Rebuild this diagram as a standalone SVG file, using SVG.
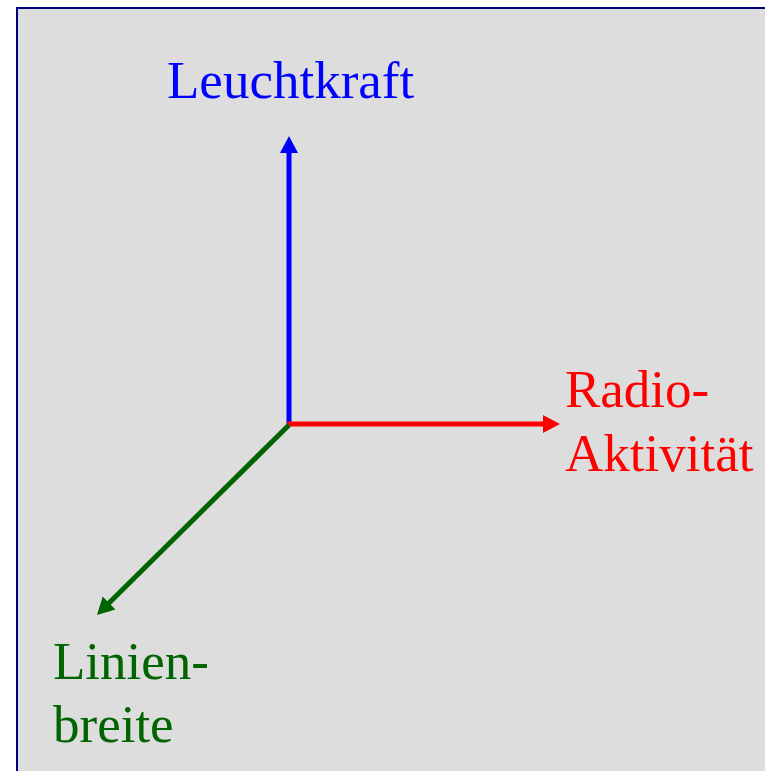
<svg xmlns="http://www.w3.org/2000/svg" width="765" height="771" viewBox="0 0 765 771">
<style>
text{font-family:"Liberation Serif","Times New Roman",serif;font-size:53px}
.ax{fill:none;stroke-width:5}
</style>
<rect id="frame" x="17" y="8" width="760" height="775" fill="#DDDDDD" stroke="#000080" stroke-width="2"/>
<g id="connectors">
<path class="ax" d="M289,426 L289,150" stroke="#0000FF"/>
<polygon points="289,136 280,153 298,153" fill="#0000FF"/>
<path class="ax" d="M287,424 L547,424" stroke="#FF0000"/>
<polygon points="560,424 543,415 543,433" fill="#FF0000"/>
<path class="ax" d="M289,425 L108,604" stroke="#006400"/>
<polygon points="97,615 115.4,609.4 102.7,596.6" fill="#006400"/>
</g>
<g id="leuchtkraft"><text x="167" y="98" fill="#0000FF">Leuchtkraft</text></g>
<g id="radio"><text x="565" y="407" fill="#FF0000">Radio-</text><text x="565" y="471" fill="#FF0000">Aktivität</text></g>
<g id="linienbreite"><text x="53" y="679" fill="#006400">Linien-</text><text x="53" y="742" fill="#006400">breite</text></g>
</svg>
